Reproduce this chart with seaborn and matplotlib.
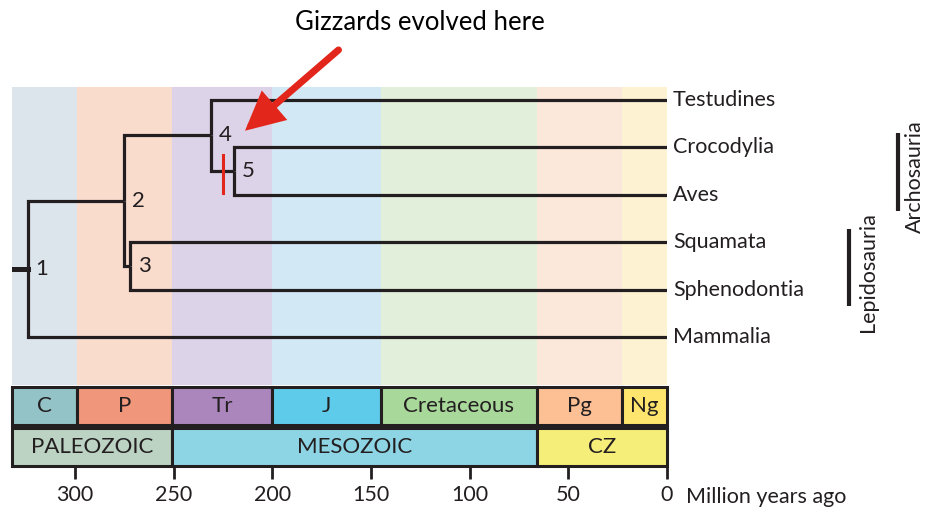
import numpy as np
import pandas as pd
import matplotlib
matplotlib.use("Agg")
import matplotlib.pyplot as plt
import seaborn as sns
from matplotlib.patches import Rectangle

# ---------------- data ----------------
taxa = ["Testudines", "Crocodylia", "Aves", "Squamata", "Sphenodontia", "Mammalia"]
node_names = ["1", "2", "3", "4", "5"]
node_ages = [324, 275, 272, 231, 219.5]          # million years ago
node_children = [["2", "Mammalia"], ["4", "3"], ["Squamata", "Sphenodontia"],
                 ["Testudines", "5"], ["Crocodylia", "Aves"]]
gizzard_age = 225
periods = ["C", "P", "Tr", "J", "Cretaceous", "Pg", "Ng"]
period_bounds = [332, 299, 251, 200, 145, 66, 23, 0]
eras = ["PALEOZOIC", "MESOZOIC", "CZ"]
era_bounds = [332, 251, 66, 0]
ticks = [300, 250, 200, 150, 100, 50, 0]

band_colors = ["#dde5ec", "#fadccd", "#dcd3e8", "#d2e9f5", "#e2efda", "#fbe8da", "#fdf3d3"]
period_colors = ["#93c3c6", "#f0967a", "#ab86bd", "#5fcbeb", "#a9d89b", "#fdbf94", "#fee56d"]
era_colors = ["#bcd3c4", "#8dd4e4", "#f5ee78"]

INK = "#231f20"
RED = "#e3261b"

plt.rcParams["font.family"] = ["Lato", "DejaVu Sans"]

fig = plt.figure(figsize=(9.27, 5.13), dpi=100)
W, H = 927, 513

# ---------------- tree geometry ----------------
age = {n: a for n, a in zip(node_names, node_ages)}
kids = {n: c for n, c in zip(node_names, node_children)}
ypos = {t: i for i, t in enumerate(taxa)}
for t in taxa:
    age[t] = 0


def get_y(n):
    if n not in ypos:
        ypos[n] = np.mean([get_y(c) for c in kids[n]])
    return ypos[n]


for n in node_names:
    get_y(n)

rows = []
seg = 0
for n in node_names:
    for c in kids[n]:
        pts = [(age[n], ypos[n]), (age[n], ypos[c]), (age[c], ypos[c])]
        for (x, y) in pts:
            rows.append({"x": x, "y": y, "seg": seg})
        seg += 1
tree = pd.DataFrame(rows)

# ---------------- main axes ----------------
ax = fig.add_axes([12 / W, 1 - 385 / H, 655 / W, 298 / H])
ax.set_xlim(332, 0)
ax.set_ylim(6.0, -0.27)
ax.axis("off")

for i in range(len(periods)):
    ax.axvspan(period_bounds[i], period_bounds[i + 1], color=band_colors[i], lw=0, zorder=0)

sns.lineplot(data=tree, x="x", y="y", units="seg", estimator=None, sort=False,
             color=INK, lw=2.3, ax=ax, solid_joinstyle="miter", solid_capstyle="butt",
             zorder=3, legend=False)
# root stub
root = pd.DataFrame({"x": [332, age["1"]], "y": [ypos["1"], ypos["1"]]})
sns.lineplot(data=root, x="x", y="y", estimator=None, sort=False, color=INK, lw=3.6,
             ax=ax, zorder=3, legend=False)
ax.set_xlabel("")
ax.set_ylabel("")

# node labels
for n in node_names:
    ax.text(age[n] - 4, ypos[n], n, fontsize=16, color=INK, ha="left", va="center", zorder=4)

# gizzard mark
ax.plot([gizzard_age, gizzard_age], [1.16, 1.96], color=RED, lw=2.2, zorder=5)

# leaf labels
for t in taxa:
    ax.text(-3, ypos[t], t, fontsize=15.5, color=INK, ha="left", va="center", clip_on=False)

# clade bars
ax.plot([-117, -117], [0.69, 2.34], color=INK, lw=3, clip_on=False, solid_capstyle="butt")
ax.text(-125.5, 1.62, "Archosauria", rotation=90, fontsize=15.5, color=INK,
        ha="center", va="center", clip_on=False)
ax.plot([-92.2, -92.2], [2.72, 4.34], color=INK, lw=3, clip_on=False, solid_capstyle="butt")
ax.text(-102, 3.62, "Lepidosauria", rotation=90, fontsize=15.5, color=INK,
        ha="center", va="center", clip_on=False)

# arrow and title
ax.annotate("", xy=(213.9, 0.65), xytext=(166.5, -1.05),
            arrowprops=dict(arrowstyle="-|>,head_length=1.0,head_width=0.5",
                            color=RED, lw=5, shrinkA=0, shrinkB=0, mutation_scale=20,
                            joinstyle="miter"),
            annotation_clip=False, zorder=6)
fig.text(420 / W, 1 - 22 / H, "Gizzards evolved here", fontsize=18.5,
         color="black", ha="center", va="center")

# ---------------- time scale ----------------
ax2 = fig.add_axes([12 / W, 1 - 466 / H, 655 / W, 79 / H])
ax2.set_xlim(332, 0)
ax2.set_ylim(0, 2)
for s in ax2.spines.values():
    s.set_visible(False)
ax2.set_yticks([])

for i, p in enumerate(periods):
    x0, x1 = period_bounds[i], period_bounds[i + 1]
    ax2.add_patch(Rectangle((x1, 1.04), x0 - x1, 0.96, facecolor=period_colors[i],
                            edgecolor=INK, lw=2.2, clip_on=False))
    ax2.text((x0 + x1) / 2, 1.52, p, fontsize=16, color=INK, ha="center", va="center")
for i, e in enumerate(eras):
    x0, x1 = era_bounds[i], era_bounds[i + 1]
    ax2.add_patch(Rectangle((x1, 0), x0 - x1, 0.96, facecolor=era_colors[i],
                            edgecolor=INK, lw=2.2, clip_on=False))
    ax2.text((x0 + x1) / 2, 0.48, e, fontsize=16, color=INK, ha="center", va="center")

ax2.set_xticks(ticks)
ax2.set_xticklabels([str(t) for t in ticks])
ax2.tick_params(axis="x", direction="out", length=9, width=2, color=INK,
                labelsize=15.5, labelcolor=INK, pad=5)
fig.text(686 / W, 1 - 497 / H, "Million years ago", fontsize=15.5, color=INK,
         ha="left", va="center")

fig.savefig("out.png", dpi=100)
